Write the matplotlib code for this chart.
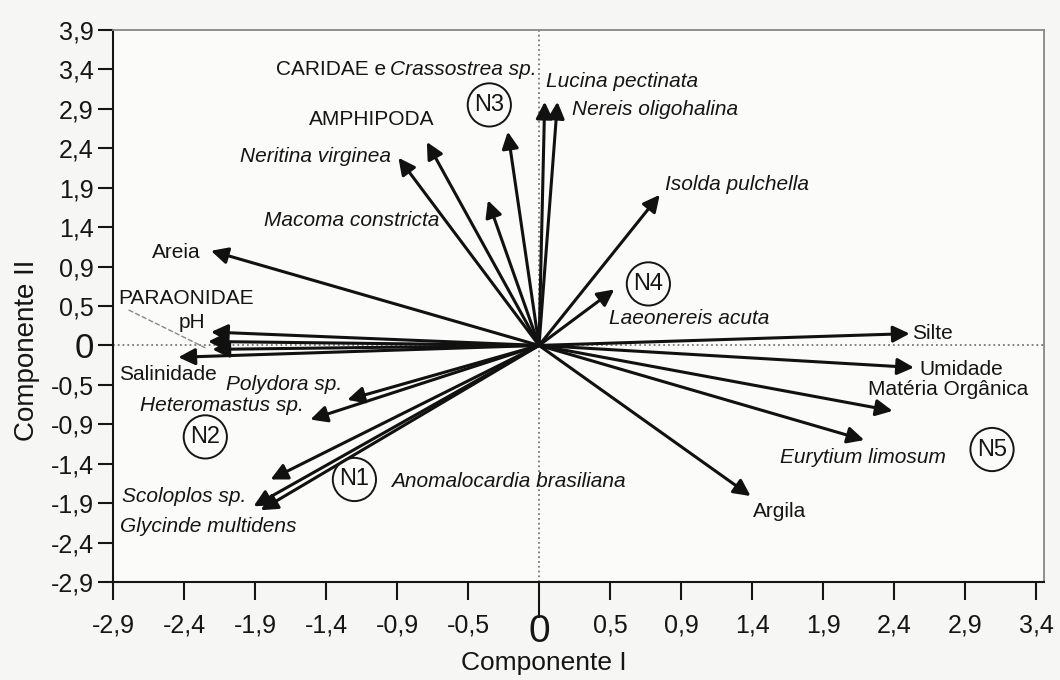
import numpy as np
import matplotlib.pyplot as plt

plt.rcParams['font.family'] = ['Liberation Sans', 'DejaVu Sans']

# vetores da ACP (componente I, componente II)
variaveis = ['Areia', 'Neritina virginea', 'AMPHIPODA', 'Macoma constricta',
             'CARIDAE e Crassostrea sp.', 'Lucina pectinata', 'Nereis oligohalina',
             'Isolda pulchella', 'Laeonereis acuta', 'Silte', 'Umidade',
             'Matéria Orgânica', 'Eurytium limosum', 'Argila', 'Polydora sp.',
             'Heteromastus sp.', 'Anomalocardia brasiliana', 'Scoloplos sp.',
             'Glycinde multidens', 'pH', 'PARAONIDAE', '', 'Salinidade']
comp1 = [-2.31, -0.99, -0.79, -0.36, -0.22, 0.04, 0.13, 0.85, 0.53, 2.61, 2.64,
         2.49, 2.29, 1.49, -1.35, -1.61, -1.89, -2.01, -1.96, -2.31, -2.33, -2.30, -2.54]
comp2 = [1.20, 2.38, 2.58, 1.84, 2.71, 3.09, 3.09, 1.91, 0.71, 0.15, -0.28,
         -0.83, -1.20, -1.91, -0.69, -0.94, -1.70, -2.04, -2.09, 0.17, 0.05, -0.05, -0.15]

grupos = ['N1', 'N2', 'N3', 'N4', 'N5']

xticklabels = ['-2,9', '-2,4', '-1,9', '-1,4', '-0,9', '-0,5', '0', '0,5', '0,9',
               '1,4', '1,9', '2,4', '2,9', '3,4']
yticklabels = ['-2,9', '-2,4', '-1,9', '-1,4', '-0,9', '-0,5', '0', '0,5', '0,9',
               '1,4', '1,9', '2,4', '2,9', '3,4', '3,9']

# posicao dos rotulos (x, y, alinhamento, italico)
pos_rot = {
    'Areia': (-2.38, 1.18, 'right', False),
    'Neritina virginea': (-1.04, 2.39, 'right', True),
    'AMPHIPODA': (-1.18, 2.86, 'center', False),
    'Macoma constricta': (-0.70, 1.58, 'right', True),
    'Lucina pectinata': (0.05, 3.35, 'left', True),
    'Nereis oligohalina': (0.23, 2.99, 'left', True),
    'Isolda pulchella': (0.89, 2.04, 'left', True),
    'Laeonereis acuta': (0.49, 0.34, 'left', True),
    'Silte': (2.63, 0.15, 'left', False),
    'Umidade': (2.68, -0.30, 'left', False),
    'Matéria Orgânica': (2.32, -0.56, 'left', False),
    'Eurytium limosum': (1.70, -1.42, 'left', True),
    'Argila': (1.51, -2.10, 'left', False),
    'Polydora sp.': (-1.39, -0.49, 'right', True),
    'Heteromastus sp.': (-1.66, -0.76, 'right', True),
    'Anomalocardia brasiliana': (-1.04, -1.73, 'left', True),
    'Scoloplos sp.': (-2.06, -1.92, 'right', True),
    'Glycinde multidens': (-2.95, -2.29, 'left', True),
    'pH': (-2.35, 0.29, 'right', False),
    'PARAONIDAE': (-2.96, 0.59, 'left', False),
    'Salinidade': (-2.96, -0.37, 'left', False),
}
pos_grupos = [(-1.30, -1.70), (-2.35, -1.16), (-0.35, 3.05), (0.77, 0.78), (3.19, -1.32)]

fig = plt.figure(figsize=(10.6, 6.8), dpi=100, facecolor='#f6f6f4')
ax = fig.add_axes([113/1060, 1-582/680, 931/1060, 552/680])
ax.set_facecolor('#fbfbfa')

ax.axhline(0, ls=':', color='#777777', lw=1.3, zorder=1)
ax.axvline(0, ls=':', color='#777777', lw=1.3, zorder=1)

for nome, x, y in zip(variaveis, comp1, comp2):
    ax.annotate('', xy=(x, y), xytext=(0, 0),
                arrowprops=dict(arrowstyle='-|>', color='#111111', lw=2.2,
                                mutation_scale=25, shrinkA=0, shrinkB=0))

for nome, (x, y, ha, it) in pos_rot.items():
    ax.text(x, y, nome, ha=ha, va='center', fontsize=15,
            style='italic' if it else 'normal', color='#151515')

# rotulo misto
ax.text(-1.08, 3.50, 'CARIDAE e', ha='right', va='center', fontsize=15, color='#151515')
ax.text(-1.05, 3.50, 'Crassostrea sp.', ha='left', va='center', fontsize=15,
        style='italic', color='#151515')

# linha tracejada do PARAONIDAE
ax.plot([-2.89, -2.35], [0.45, -0.03], ls='--', color='#888888', lw=1)

for g, (x, y) in zip(grupos, pos_grupos):
    ax.text(x, y, g, ha='center', va='center', fontsize=17, color='#151515',
            bbox=dict(boxstyle='circle,pad=0.28', fc='none', ec='#151515', lw=1.4))

ax.set_xlim(-3.0, 3.556)
ax.set_ylim(-3.0, 4.0)
ax.set_xticks(np.arange(-3.0, 3.51, 0.5))
ax.set_xticklabels(xticklabels, fontsize=18)
ax.set_yticks(np.arange(-3.0, 4.01, 0.5))
ax.set_yticklabels(yticklabels, fontsize=18)
ax.tick_params(axis='x', direction='out', length=13, width=1.5, pad=10, colors='#151515')
ax.tick_params(axis='y', direction='out', length=11, width=1.5, pad=3, colors='#151515')
for lab in ax.get_xticklabels():
    if lab.get_text() == '0':
        lab.set_fontsize(28)
for lab in ax.get_yticklabels():
    if lab.get_text() == '0':
        lab.set_fontsize(25)
ax.xaxis.get_major_ticks()[6].tick1line.set_markersize(26)

for s in ['top', 'right']:
    ax.spines[s].set_color('#888888')
    ax.spines[s].set_linewidth(1.3)
for s in ['left', 'bottom']:
    ax.spines[s].set_linewidth(1.5)
    ax.spines[s].set_color('#151515')

ax.set_xlabel('Componente I', fontsize=19, color='#151515')
ax.xaxis.set_label_coords((544 - 113) / 931, -0.125)
ax.set_ylabel('Componente II', fontsize=20, color='#151515')
ax.yaxis.set_label_coords(-0.078, (582 - 350) / 552)

plt.savefig('out.png', dpi=100, facecolor=fig.get_facecolor())
